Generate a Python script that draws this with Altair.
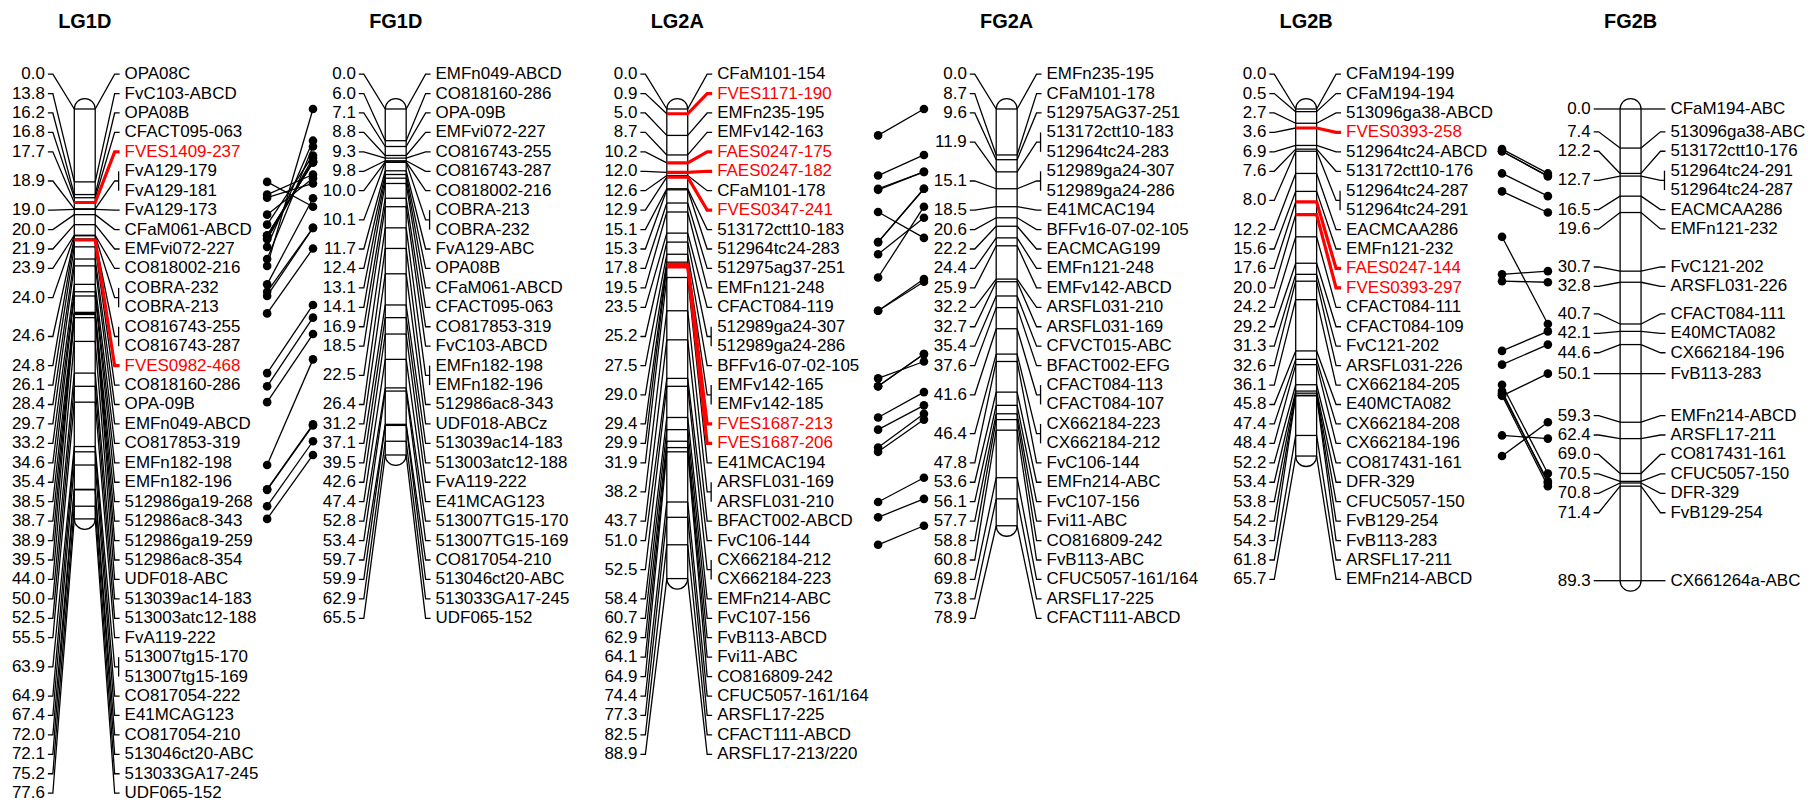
import altair as alt
import pandas as pd

# ---------------- data ----------------
LG1D_CM = [0.0, 13.8, 16.2, 16.8, 17.7, 18.9, 19.0, 20.0, 21.9, 23.9, 24.0, 24.6, 24.8, 26.1,
           28.4, 29.7, 33.2, 34.6, 35.4, 38.5, 38.7, 38.9, 39.5, 44.0, 50.0, 52.5, 55.5, 63.9,
           64.9, 67.4, 72.0, 72.1, 75.2, 77.6]
LG1D_MARKERS = [["OPA08C"], ["FvC103-ABCD"], ["OPA08B"], ["CFACT095-063"], ["FVES1409-237"],
                ["FvA129-179", "FvA129-181"], ["FvA129-173"], ["CFaM061-ABCD"], ["EMFvi072-227"],
                ["CO818002-216"], ["COBRA-232", "COBRA-213"], ["CO816743-255", "CO816743-287"],
                ["FVES0982-468"], ["CO818160-286"], ["OPA-09B"], ["EMFn049-ABCD"], ["CO817853-319"],
                ["EMFn182-198"], ["EMFn182-196"], ["512986ga19-268"], ["512986ac8-343"],
                ["512986ga19-259"], ["512986ac8-354"], ["UDF018-ABC"], ["513039ac14-183"],
                ["513003atc12-188"], ["FvA119-222"], ["513007tg15-170", "513007tg15-169"],
                ["CO817054-222"], ["E41MCAG123"], ["CO817054-210"], ["513046ct20-ABC"],
                ["513033GA17-245"], ["UDF065-152"]]

FG1D_CM = [0.0, 6.0, 7.1, 8.8, 9.3, 9.8, 10.0, 10.1, 11.7, 12.4, 13.1, 14.1, 16.9, 18.5, 22.5,
           26.4, 31.2, 37.1, 39.5, 42.6, 47.4, 52.8, 53.4, 59.7, 59.9, 62.9, 65.5]
FG1D_MARKERS = [["EMFn049-ABCD"], ["CO818160-286"], ["OPA-09B"], ["EMFvi072-227"],
                ["CO816743-255"], ["CO816743-287"], ["CO818002-216"], ["COBRA-213", "COBRA-232"],
                ["FvA129-ABC"], ["OPA08B"], ["CFaM061-ABCD"], ["CFACT095-063"], ["CO817853-319"],
                ["FvC103-ABCD"], ["EMFn182-198", "EMFn182-196"], ["512986ac8-343"], ["UDF018-ABCz"],
                ["513039ac14-183"], ["513003atc12-188"], ["FvA119-222"], ["E41MCAG123"],
                ["513007TG15-170"], ["513007TG15-169"], ["CO817054-210"], ["513046ct20-ABC"],
                ["513033GA17-245"], ["UDF065-152"]]

LG2A_CM = [0.0, 0.9, 5.0, 8.7, 10.2, 12.0, 12.6, 12.9, 15.1, 15.3, 17.8, 19.5, 23.5, 25.2, 27.5,
           29.0, 29.4, 29.9, 31.9, 38.2, 43.7, 51.0, 52.5, 58.4, 60.7, 62.9, 64.1, 64.9, 74.4,
           77.3, 82.5, 88.9]
LG2A_MARKERS = [["CFaM101-154"], ["FVES1171-190"], ["EMFn235-195"], ["EMFv142-163"],
                ["FAES0247-175"], ["FAES0247-182"], ["CFaM101-178"], ["FVES0347-241"],
                ["513172ctt10-183"], ["512964tc24-283"], ["512975ag37-251"], ["EMFn121-248"],
                ["CFACT084-119"], ["512989ga24-307", "512989ga24-286"], ["BFFv16-07-02-105"],
                ["EMFv142-165", "EMFv142-185"], ["FVES1687-213"], ["FVES1687-206"], ["E41MCAC194"],
                ["ARSFL031-169", "ARSFL031-210"], ["BFACT002-ABCD"], ["FvC106-144"],
                ["CX662184-212", "CX662184-223"], ["EMFn214-ABC"], ["FvC107-156"], ["FvB113-ABCD"],
                ["Fvi11-ABC"], ["CO816809-242"], ["CFUC5057-161/164"], ["ARSFL17-225"],
                ["CFACT111-ABCD"], ["ARSFL17-213/220"]]

FG2A_CM = [0.0, 8.7, 9.6, 11.9, 15.1, 18.5, 20.6, 22.2, 24.4, 25.9, 32.2, 32.7, 35.4, 37.6, 41.6,
           46.4, 47.8, 53.6, 56.1, 57.7, 58.8, 60.8, 69.8, 73.8, 78.9]
FG2A_MARKERS = [["EMFn235-195"], ["CFaM101-178"], ["512975AG37-251"],
                ["513172ctt10-183", "512964tc24-283"], ["512989ga24-307", "512989ga24-286"],
                ["E41MCAC194"], ["BFFv16-07-02-105"], ["EACMCAG199"], ["EMFn121-248"],
                ["EMFv142-ABCD"], ["ARSFL031-210"], ["ARSFL031-169"], ["CFVCT015-ABC"],
                ["BFACT002-EFG"], ["CFACT084-113", "CFACT084-107"], ["CX662184-223", "CX662184-212"],
                ["FvC106-144"], ["EMFn214-ABC"], ["FvC107-156"], ["Fvi11-ABC"], ["CO816809-242"],
                ["FvB113-ABC"], ["CFUC5057-161/164"], ["ARSFL17-225"], ["CFACT111-ABCD"]]

LG2B_CM = [0.0, 0.5, 2.7, 3.6, 6.9, 7.6, 8.0, 12.2, 15.6, 17.6, 20.0, 24.2, 29.2, 31.3, 32.6,
           36.1, 45.8, 47.4, 48.4, 52.2, 53.4, 53.8, 54.2, 54.3, 61.8, 65.7]
LG2B_MARKERS = [["CFaM194-199"], ["CFaM194-194"], ["513096ga38-ABCD"], ["FVES0393-258"],
                ["512964tc24-ABCD"], ["513172ctt10-176"], ["512964tc24-287", "512964tc24-291"],
                ["EACMCAA286"], ["EMFn121-232"], ["FAES0247-144"], ["FVES0393-297"],
                ["CFACT084-111"], ["CFACT084-109"], ["FvC121-202"], ["ARSFL031-226"],
                ["CX662184-205"], ["E40MCTA082"], ["CX662184-208"], ["CX662184-196"],
                ["CO817431-161"], ["DFR-329"], ["CFUC5057-150"], ["FvB129-254"], ["FvB113-283"],
                ["ARSFL17-211"], ["EMFn214-ABCD"]]

FG2B_CM = [0.0, 7.4, 12.2, 12.7, 16.5, 19.6, 30.7, 32.8, 40.7, 42.1, 44.6, 50.1, 59.3, 62.4,
           69.0, 70.5, 70.8, 71.4, 89.3]
FG2B_MARKERS = [["CFaM194-ABC"], ["513096ga38-ABC"], ["513172ctt10-176"],
                ["512964tc24-291", "512964tc24-287"], ["EACMCAA286"], ["EMFn121-232"],
                ["FvC121-202"], ["ARSFL031-226"], ["CFACT084-111"], ["E40MCTA082"],
                ["CX662184-196"], ["FvB113-283"], ["EMFn214-ABCD"], ["ARSFL17-211"],
                ["CO817431-161"], ["CFUC5057-150"], ["DFR-329"], ["FvB129-254"], ["CX661264a-ABC"]]

GROUP_NAMES = ["LG1D", "FG1D", "LG2A", "FG2A", "LG2B", "FG2B"]
GROUP_DATA = {"LG1D": (LG1D_CM, LG1D_MARKERS), "FG1D": (FG1D_CM, FG1D_MARKERS),
              "LG2A": (LG2A_CM, LG2A_MARKERS), "FG2A": (FG2A_CM, FG2A_MARKERS),
              "LG2B": (LG2B_CM, LG2B_MARKERS), "FG2B": (FG2B_CM, FG2B_MARKERS)}
COMPARE = [("LG1D", "FG1D"), ("LG2A", "FG2A"), ("LG2B", "FG2B")]
HIGHLIGHT_PREFIXES = ("FVES", "FAES")

# ---------------- layout / style ----------------
GROUP_CX = {"LG1D": 85, "FG1D": 397, "LG2A": 679.5, "FG2A": 1010, "LG2B": 1310.5, "FG2B": 1636}
W, H, MARGIN = 1796, 785, 8
PX_PER_CM = 5.3
CM0_Y = 108.0
ROW = 19.5
LABEL_TOP = 73.0
HALF_W = 10.5
RED = "#ff0000"
FONT = "Liberation Sans"
LW = 1.3


def px_to_cm(py):
    return (py - CM0_Y) / PX_PER_CM


def cm_to_px(c):
    return CM0_Y + c * PX_PER_CM


def spread(targets, d, lo):
    """least-squares label positions with a minimum spacing and a top bound"""
    q = [t - i * d for i, t in enumerate(targets)]
    blocks = []
    for v in q:
        blocks.append([v, 1])
        while len(blocks) > 1 and blocks[-2][0] / blocks[-2][1] > blocks[-1][0] / blocks[-1][1]:
            s, c = blocks.pop()
            blocks[-1][0] += s
            blocks[-1][1] += c
    out = []
    for s, c in blocks:
        out += [max(s / c, lo)] * c
    return [v + i * d for i, v in enumerate(out)]


bars, ticks, lines, brackets, ltext, rtext, titles = [], [], [], [], [], [], []
lid = 0
for g in GROUP_NAMES:
    cms, markers = GROUP_DATA[g]
    cx = GROUP_CX[g]
    cap = HALF_W / PX_PER_CM
    bars.append({"x": cx - HALF_W, "x2": cx + HALF_W, "y": -cap, "y2": max(cms) + cap})
    titles.append({"x": cx, "text": g})
    targets = []
    owner = []
    for k, (c, names) in enumerate(zip(cms, markers)):
        for n in names:
            targets.append(cm_to_px(c))
            owner.append(k)
    rows = spread(targets, ROW, LABEL_TOP)
    for k, (c, names) in enumerate(zip(cms, markers)):
        ry = [rows[i] for i in range(len(rows)) if owner[i] == k]
        mid = sum(ry) / len(ry)
        red = any(n.startswith(HIGHLIGHT_PREFIXES) for n in names)
        ticks.append({"x": cx - HALF_W, "x2": cx + HALF_W, "y": c, "red": red})
        # left label connector
        pts = [(cx - 37, px_to_cm(mid)), (cx - 32, px_to_cm(mid)), (cx - HALF_W, c)]
        for o, (xx, yy) in enumerate(pts):
            lines.append({"id": lid, "ord": o, "x": xx, "y": yy, "red": False})
        lid += 1
        ltext.append({"x": cx - 40, "y": px_to_cm(mid), "text": f"{c:.1f}"})
        # right label connector
        end = cx + 34 if len(names) > 1 else cx + 35
        pts = [(cx + HALF_W, c), (cx + 30, px_to_cm(mid)), (end, px_to_cm(mid))]
        if red:
            pts = [(cx - HALF_W, c)] + pts
        for o, (xx, yy) in enumerate(pts):
            lines.append({"id": lid, "ord": o, "x": xx, "y": yy, "red": red})
        lid += 1
        if len(names) > 1:
            brackets.append({"x": cx + 34, "y": px_to_cm(ry[0]), "y2": px_to_cm(ry[-1])})
        for n, yy in zip(names, ry):
            rtext.append({"x": cx + 40, "y": px_to_cm(yy), "text": n,
                          "col": RED if n.startswith(HIGHLIGHT_PREFIXES) else "black"})

comp, dots = [], []
cid = 0
for a, b in COMPARE:
    fcx = GROUP_CX[b]
    bpos = {}
    for c, names in zip(*GROUP_DATA[b]):
        for n in names:
            bpos[n] = c
    for c, names in zip(*GROUP_DATA[a]):
        for n in names:
            if n in bpos:
                comp.append({"id": cid, "ord": 0, "x": fcx - 129, "y": c})
                comp.append({"id": cid, "ord": 1, "x": fcx - 83, "y": bpos[n]})
                dots.append({"x": fcx - 129, "y": c})
                dots.append({"x": fcx - 83, "y": bpos[n]})
                cid += 1

XS = alt.Scale(domain=[MARGIN, MARGIN + W], nice=False, zero=False)
YS = alt.Scale(domain=[px_to_cm(MARGIN), px_to_cm(MARGIN + H)], reverse=True, nice=False, zero=False)
X = alt.X("x:Q", scale=XS, axis=None)
Y = alt.Y("y:Q", scale=YS, axis=None)

df_lines = pd.DataFrame(lines)
df_ticks = pd.DataFrame(ticks)

bar_layer = alt.Chart(pd.DataFrame(bars)).mark_rect(
    cornerRadius=HALF_W, fill="white", stroke="black", strokeWidth=LW
).encode(x=X, x2="x2:Q", y=Y, y2="y2:Q")

tick_layer = alt.Chart(df_ticks[~df_ticks.red]).mark_rule(color="black", strokeWidth=LW).encode(
    x=X, x2="x2:Q", y=Y)

line_layer = alt.Chart(df_lines[~df_lines.red]).mark_line(color="black", strokeWidth=LW).encode(
    x=X, y=Y, detail="id:N", order="ord:Q")

red_layer = alt.Chart(df_lines[df_lines.red]).mark_line(color=RED, strokeWidth=3.2).encode(
    x=X, y=Y, detail="id:N", order="ord:Q")

bracket_layer = alt.Chart(pd.DataFrame(brackets)).mark_rule(color="black", strokeWidth=LW).encode(
    x=X, y=Y, y2="y2:Q")

ltext_layer = alt.Chart(pd.DataFrame(ltext)).mark_text(
    align="right", baseline="middle", font=FONT, fontSize=17, color="black"
).encode(x=X, y=Y, text="text:N")

rtext_layer = alt.Chart(pd.DataFrame(rtext)).mark_text(
    align="left", baseline="middle", font=FONT, fontSize=17
).encode(x=X, y=Y, text="text:N", color=alt.Color("col:N", scale=None))

title_layer = alt.Chart(pd.DataFrame(titles)).mark_text(
    align="center", baseline="middle", font=FONT, fontSize=20, fontWeight="bold", color="black"
).encode(x=X, y=alt.value(13), text="text:N")

comp_layer = alt.Chart(pd.DataFrame(comp)).mark_line(color="black", strokeWidth=LW).encode(
    x=X, y=Y, detail="id:N", order="ord:Q")

dot_layer = alt.Chart(pd.DataFrame(dots)).mark_circle(color="black", size=75, opacity=1).encode(
    x=X, y=Y)

chart = alt.layer(
    bar_layer, tick_layer, line_layer, red_layer, bracket_layer,
    ltext_layer, rtext_layer, title_layer, comp_layer, dot_layer
).properties(width=W, height=H, padding=0).configure_view(stroke=None)

chart.save("out.html", embed_options={"renderer": "svg", "actions": False})
